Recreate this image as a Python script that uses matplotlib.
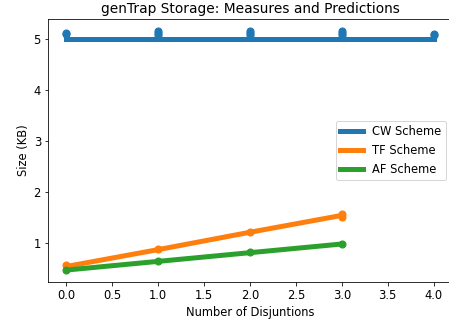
import matplotlib.pyplot as plt

# disjunction counts
x_cw = [0, 1, 2, 3, 4]
x_small = [0, 1, 2, 3]

# predictions (KB)
pred_cw = [5.0, 5.0, 5.0, 5.0, 5.0]
pred_tf = [0.55, 0.88, 1.22, 1.55]
pred_af = [0.48, 0.65, 0.82, 0.99]

# measures (KB), several runs per x
meas_cw_x = [0, 0, 1, 1, 1, 2, 2, 2, 3, 3, 3, 4, 4]
meas_cw = [5.10, 5.12, 5.08, 5.12, 5.16, 5.08, 5.12, 5.15, 5.08, 5.12, 5.15, 5.08, 5.10]
meas_tf_x = [0, 1, 2, 3, 3]
meas_tf = [0.58, 0.90, 1.22, 1.52, 1.57]
meas_af_x = [0, 1, 2, 3]
meas_af = [0.48, 0.66, 0.83, 0.99]

plt.rcParams['font.size'] = 11.5

plt.figure(figsize=(449 / 72, 329 / 72), dpi=72)
ax = plt.axes([48 / 449, 47 / 329, 404 / 449, 263 / 329])

ax.plot(x_cw, pred_cw, color='C0', linewidth=5, label='CW Scheme')
ax.plot(x_small, pred_tf, color='C1', linewidth=5, label='TF Scheme')
ax.plot(x_small, pred_af, color='C2', linewidth=5, label='AF Scheme')
ax.scatter(meas_cw_x, meas_cw, color='C0', s=50, zorder=3)
ax.scatter(meas_tf_x, meas_tf, color='C1', s=50, zorder=3)
ax.scatter(meas_af_x, meas_af, color='C2', s=50, zorder=3)

ax.set_title('genTrap Storage: Measures and Predictions')
ax.set_xlabel('Number of Disjuntions')
ax.set_ylabel('Size (KB)')
ax.legend(loc='center right')

plt.savefig('out.png', dpi=72)
